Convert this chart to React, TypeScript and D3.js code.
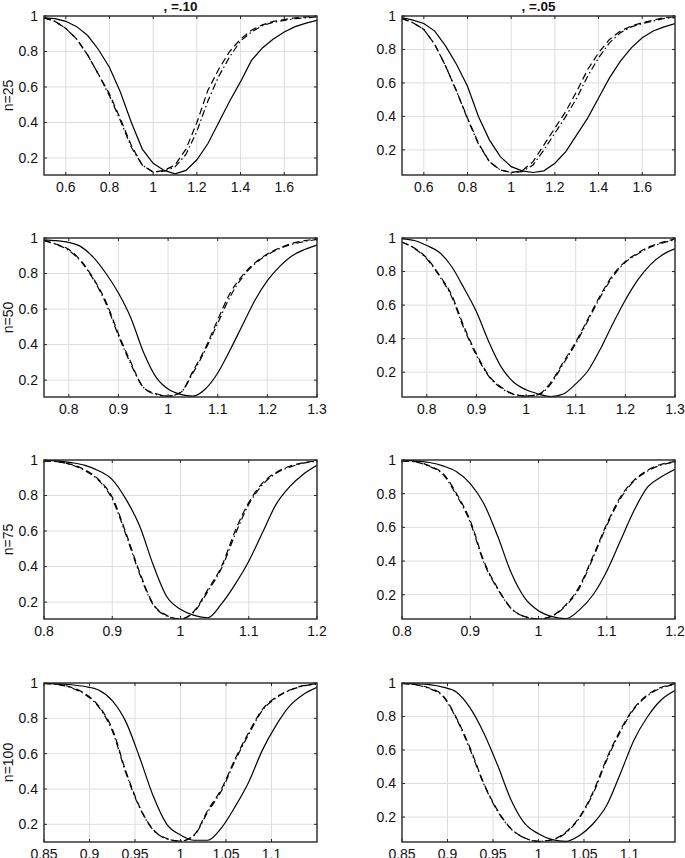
import React from 'react'
import * as d3 from 'd3'

// column titles (alpha level) and row labels (sample size)
const colTitles = [', =.10', ', =.05']
const rowLabels = ['n=25', 'n=50', 'n=75', 'n=100']

// x grids, one per row
const x25 = [0.5, 0.55, 0.6, 0.65, 0.7, 0.75, 0.8, 0.85, 0.9, 0.95, 1.0, 1.05, 1.1, 1.15, 1.2, 1.25, 1.3, 1.35, 1.4, 1.45, 1.5, 1.55, 1.6, 1.65, 1.7, 1.75]
const x50 = [0.75, 0.775, 0.8, 0.825, 0.85, 0.875, 0.9, 0.925, 0.95, 0.975, 1.0, 1.025, 1.05, 1.075, 1.1, 1.125, 1.15, 1.175, 1.2, 1.225, 1.25, 1.275, 1.3]
const x75 = [0.8, 0.82, 0.84, 0.86, 0.88, 0.9, 0.92, 0.94, 0.96, 0.98, 1.0, 1.02, 1.04, 1.06, 1.08, 1.1, 1.12, 1.14, 1.16, 1.18, 1.2]
const x100 = [0.85, 0.865, 0.88, 0.895, 0.91, 0.925, 0.94, 0.955, 0.97, 0.985, 1.0, 1.015, 1.03, 1.045, 1.06, 1.075, 1.09, 1.105, 1.12, 1.135, 1.15]

// x domains and ticks per row
const xDomains = [[0.5, 1.75], [0.75, 1.3], [0.8, 1.2], [0.85, 1.15]]
const xTicks = [
  [0.6, 0.8, 1, 1.2, 1.4, 1.6],
  [0.8, 0.9, 1, 1.1, 1.2, 1.3],
  [0.8, 0.9, 1, 1.1, 1.2],
  [0.85, 0.9, 0.95, 1, 1.05, 1.1],
]
const yTicks = [0.2, 0.4, 0.6, 0.8, 1]
// lower y limit per row, per column
const yLow = [[0.104, 0.05], [0.105, 0.052], [0.105, 0.056], [0.1, 0.051]]

// n=25, alpha=.10
const s25a = [0.99, 0.985, 0.97, 0.94, 0.89, 0.81, 0.71, 0.57, 0.40, 0.25, 0.17, 0.13, 0.11, 0.13, 0.19, 0.28, 0.40, 0.52, 0.63, 0.75, 0.82, 0.87, 0.91, 0.94, 0.96, 0.975]
const d25a = [0.99, 0.97, 0.93, 0.87, 0.78, 0.67, 0.56, 0.42, 0.27, 0.16, 0.12, 0.13, 0.16, 0.25, 0.40, 0.58, 0.70, 0.80, 0.87, 0.92, 0.95, 0.97, 0.98, 0.99, 0.995, 1.0]
const dd25a = [0.99, 0.97, 0.93, 0.87, 0.78, 0.67, 0.55, 0.41, 0.26, 0.16, 0.12, 0.125, 0.15, 0.22, 0.35, 0.52, 0.66, 0.77, 0.86, 0.91, 0.945, 0.965, 0.975, 0.985, 0.99, 0.995]
// n=25, alpha=.05
const s25b = [0.99, 0.975, 0.955, 0.91, 0.82, 0.71, 0.58, 0.40, 0.26, 0.16, 0.10, 0.075, 0.065, 0.075, 0.12, 0.19, 0.29, 0.39, 0.51, 0.63, 0.73, 0.81, 0.87, 0.91, 0.935, 0.955]
const d25b = [0.985, 0.96, 0.92, 0.83, 0.70, 0.55, 0.39, 0.24, 0.13, 0.08, 0.065, 0.075, 0.13, 0.23, 0.33, 0.43, 0.55, 0.68, 0.78, 0.86, 0.91, 0.94, 0.96, 0.975, 0.99, 0.995]
const dd25b = [0.985, 0.96, 0.92, 0.83, 0.70, 0.55, 0.385, 0.235, 0.13, 0.08, 0.065, 0.07, 0.11, 0.20, 0.30, 0.40, 0.51, 0.64, 0.75, 0.84, 0.90, 0.935, 0.955, 0.97, 0.985, 0.99]

// n=50
const s50a = [0.99, 0.985, 0.975, 0.95, 0.89, 0.80, 0.69, 0.55, 0.36, 0.22, 0.15, 0.12, 0.11, 0.15, 0.24, 0.37, 0.51, 0.65, 0.76, 0.84, 0.90, 0.935, 0.96]
const d50a = [0.985, 0.965, 0.935, 0.87, 0.77, 0.64, 0.46, 0.30, 0.16, 0.125, 0.11, 0.13, 0.25, 0.38, 0.54, 0.69, 0.79, 0.86, 0.91, 0.945, 0.97, 0.985, 0.995]
const dd50a = [0.985, 0.963, 0.93, 0.865, 0.765, 0.63, 0.45, 0.29, 0.16, 0.12, 0.11, 0.13, 0.24, 0.37, 0.52, 0.67, 0.78, 0.855, 0.905, 0.94, 0.965, 0.98, 0.992]
const s50b = [0.995, 0.985, 0.955, 0.915, 0.83, 0.70, 0.56, 0.38, 0.23, 0.14, 0.095, 0.07, 0.055, 0.07, 0.13, 0.21, 0.34, 0.49, 0.63, 0.75, 0.84, 0.90, 0.935]
const d50b = [0.975, 0.94, 0.88, 0.78, 0.66, 0.47, 0.31, 0.18, 0.11, 0.07, 0.058, 0.068, 0.14, 0.26, 0.38, 0.52, 0.66, 0.78, 0.86, 0.91, 0.95, 0.975, 0.995]
const dd50b = [0.975, 0.938, 0.875, 0.775, 0.65, 0.46, 0.30, 0.175, 0.105, 0.068, 0.057, 0.066, 0.13, 0.25, 0.37, 0.51, 0.65, 0.77, 0.855, 0.905, 0.945, 0.97, 0.99]

// n=75
const s75a = [0.998, 0.995, 0.985, 0.97, 0.94, 0.89, 0.78, 0.63, 0.41, 0.23, 0.16, 0.125, 0.112, 0.19, 0.30, 0.43, 0.59, 0.75, 0.85, 0.92, 0.97]
const d75a = [0.995, 0.99, 0.975, 0.945, 0.89, 0.79, 0.59, 0.37, 0.19, 0.125, 0.105, 0.15, 0.27, 0.40, 0.60, 0.76, 0.87, 0.93, 0.965, 0.985, 0.995]
const dd75a = [0.995, 0.99, 0.973, 0.94, 0.885, 0.78, 0.58, 0.36, 0.185, 0.122, 0.105, 0.145, 0.26, 0.39, 0.58, 0.75, 0.86, 0.925, 0.96, 0.982, 0.993]
const s75b = [0.998, 0.995, 0.985, 0.965, 0.93, 0.86, 0.74, 0.55, 0.33, 0.18, 0.105, 0.07, 0.058, 0.11, 0.20, 0.34, 0.52, 0.70, 0.84, 0.90, 0.945]
const d75b = [0.995, 0.99, 0.965, 0.92, 0.80, 0.64, 0.40, 0.24, 0.12, 0.07, 0.056, 0.075, 0.14, 0.25, 0.43, 0.62, 0.78, 0.88, 0.94, 0.975, 0.99]
const dd75b = [0.995, 0.988, 0.962, 0.915, 0.79, 0.63, 0.39, 0.235, 0.118, 0.07, 0.056, 0.073, 0.135, 0.24, 0.42, 0.61, 0.77, 0.875, 0.935, 0.97, 0.988]

// n=100
const s100a = [0.998, 0.995, 0.99, 0.98, 0.96, 0.90, 0.78, 0.58, 0.36, 0.20, 0.14, 0.11, 0.11, 0.18, 0.30, 0.44, 0.62, 0.76, 0.87, 0.935, 0.975]
const d100a = [0.998, 0.993, 0.975, 0.94, 0.87, 0.74, 0.50, 0.30, 0.17, 0.12, 0.105, 0.14, 0.28, 0.40, 0.57, 0.72, 0.85, 0.92, 0.96, 0.985, 0.995]
const dd100a = [0.998, 0.992, 0.973, 0.935, 0.865, 0.73, 0.49, 0.295, 0.168, 0.118, 0.105, 0.138, 0.27, 0.39, 0.56, 0.71, 0.845, 0.915, 0.958, 0.983, 0.994]
const s100b = [0.998, 0.995, 0.99, 0.975, 0.945, 0.85, 0.70, 0.51, 0.30, 0.16, 0.10, 0.065, 0.055, 0.09, 0.16, 0.27, 0.46, 0.66, 0.80, 0.90, 0.955]
const d100b = [0.998, 0.99, 0.97, 0.925, 0.79, 0.61, 0.40, 0.24, 0.13, 0.075, 0.055, 0.065, 0.11, 0.20, 0.35, 0.55, 0.72, 0.85, 0.93, 0.975, 0.995]
const dd100b = [0.998, 0.989, 0.967, 0.92, 0.785, 0.60, 0.395, 0.235, 0.128, 0.074, 0.055, 0.064, 0.105, 0.195, 0.34, 0.54, 0.71, 0.845, 0.925, 0.97, 0.993]

const xGrids = [x25, x50, x75, x100]
const series = [
  [[s25a, d25a, dd25a], [s25b, d25b, dd25b]],
  [[s50a, d50a, dd50a], [s50b, d50b, dd50b]],
  [[s75a, d75a, dd75a], [s75b, d75b, dd75b]],
  [[s100a, d100a, dd100a], [s100b, d100b, dd100b]],
]

const W = 685
const H = 858
const colX = [44, 402]
const rowY = [16, 238, 460, 683]
const plotW = 273
const plotH = 159
const dashes = [null, '7,4', '7,3,1.5,3']
const font = '"Liberation Sans", Arial, Helvetica, sans-serif'
const axisColor = '#262626'

const fmt = (v: number) => String(+v.toFixed(2))

function Panel({ row, col }: { row: number; col: number }) {
  const x0 = colX[col]
  const y0 = rowY[row]
  const x = d3.scaleLinear().domain(xDomains[row]).range([0, plotW])
  const y = d3.scaleLinear().domain([yLow[row][col], 1]).range([plotH, 0])
  const xs = xGrids[row]
  const clipId = `clip-${row}-${col}`
  // first row is coarse in the original, the others are smooth
  const line = d3.line<number>()
    .x((_, i) => x(xs[i]))
    .y(d => y(d))
    .curve(row === 0 ? d3.curveLinear : d3.curveMonotoneX)
  const tk = 3
  return (
    <g transform={`translate(${x0},${y0})`} fontFamily={font}>
      <defs>
        <clipPath id={clipId}>
          <rect x={0} y={0} width={plotW} height={plotH} />
        </clipPath>
      </defs>
      <rect x={0} y={0} width={plotW} height={plotH} fill="#fff" />
      {/* grid */}
      {xTicks[row].filter(t => x(t) > 0.5 && x(t) < plotW - 0.5).map(t => (
        <line key={'gx' + t} x1={x(t)} x2={x(t)} y1={0} y2={plotH} stroke="#dedede" strokeWidth={1} />
      ))}
      {yTicks.filter(t => y(t) > 0.5).map(t => (
        <line key={'gy' + t} x1={0} x2={plotW} y1={y(t)} y2={y(t)} stroke="#dedede" strokeWidth={1} />
      ))}
      {/* curves */}
      <g clipPath={`url(#${clipId})`}>
        {series[row][col].map((vals, k) => (
          <path key={k} d={line(vals) || ''} fill="none" stroke="#000" strokeWidth={1.2}
            strokeDasharray={dashes[k] || undefined} />
        ))}
      </g>
      {/* tick marks, inward on all four sides */}
      {xTicks[row].map(t => (
        <g key={'tx' + t}>
          <line x1={x(t)} x2={x(t)} y1={plotH} y2={plotH - tk} stroke={axisColor} />
          <line x1={x(t)} x2={x(t)} y1={0} y2={tk} stroke={axisColor} />
        </g>
      ))}
      {yTicks.map(t => (
        <g key={'ty' + t}>
          <line x1={0} x2={tk} y1={y(t)} y2={y(t)} stroke={axisColor} />
          <line x1={plotW} x2={plotW - tk} y1={y(t)} y2={y(t)} stroke={axisColor} />
        </g>
      ))}
      <rect x={0} y={0} width={plotW} height={plotH} fill="none" stroke={axisColor} strokeWidth={1.4} />
      {/* tick labels */}
      {xTicks[row].map(t => (
        <text key={'lx' + t} x={x(t)} y={plotH + 17} textAnchor="middle" fontSize={14} fill="#111">{fmt(t)}</text>
      ))}
      {yTicks.map(t => (
        <text key={'ly' + t} x={-6} y={y(t)} dy="0.35em" textAnchor="end" fontSize={14} fill="#111">{fmt(t)}</text>
      ))}
      {col === 0 && (
        <text transform={`translate(${-31},${plotH / 2}) rotate(-90)`} textAnchor="middle" fontSize={14} fill="#111">
          {rowLabels[row]}
        </text>
      )}
      {row === 0 && (
        <text x={plotW / 2} y={-5.5} textAnchor="middle" fontSize={13.5} fontWeight="bold" fill="#111">
          {colTitles[col]}
        </text>
      )}
    </g>
  )
}

export default function App() {
  return (
    <svg width={W} height={H} style={{ position: 'absolute', left: 0, top: 0, background: '#fff' }}>
      <rect width={W} height={H} fill="#fff" />
      {rowLabels.map((_, r) => colTitles.map((_, c) => <Panel key={`${r}-${c}`} row={r} col={c} />))}
    </svg>
  )
}
